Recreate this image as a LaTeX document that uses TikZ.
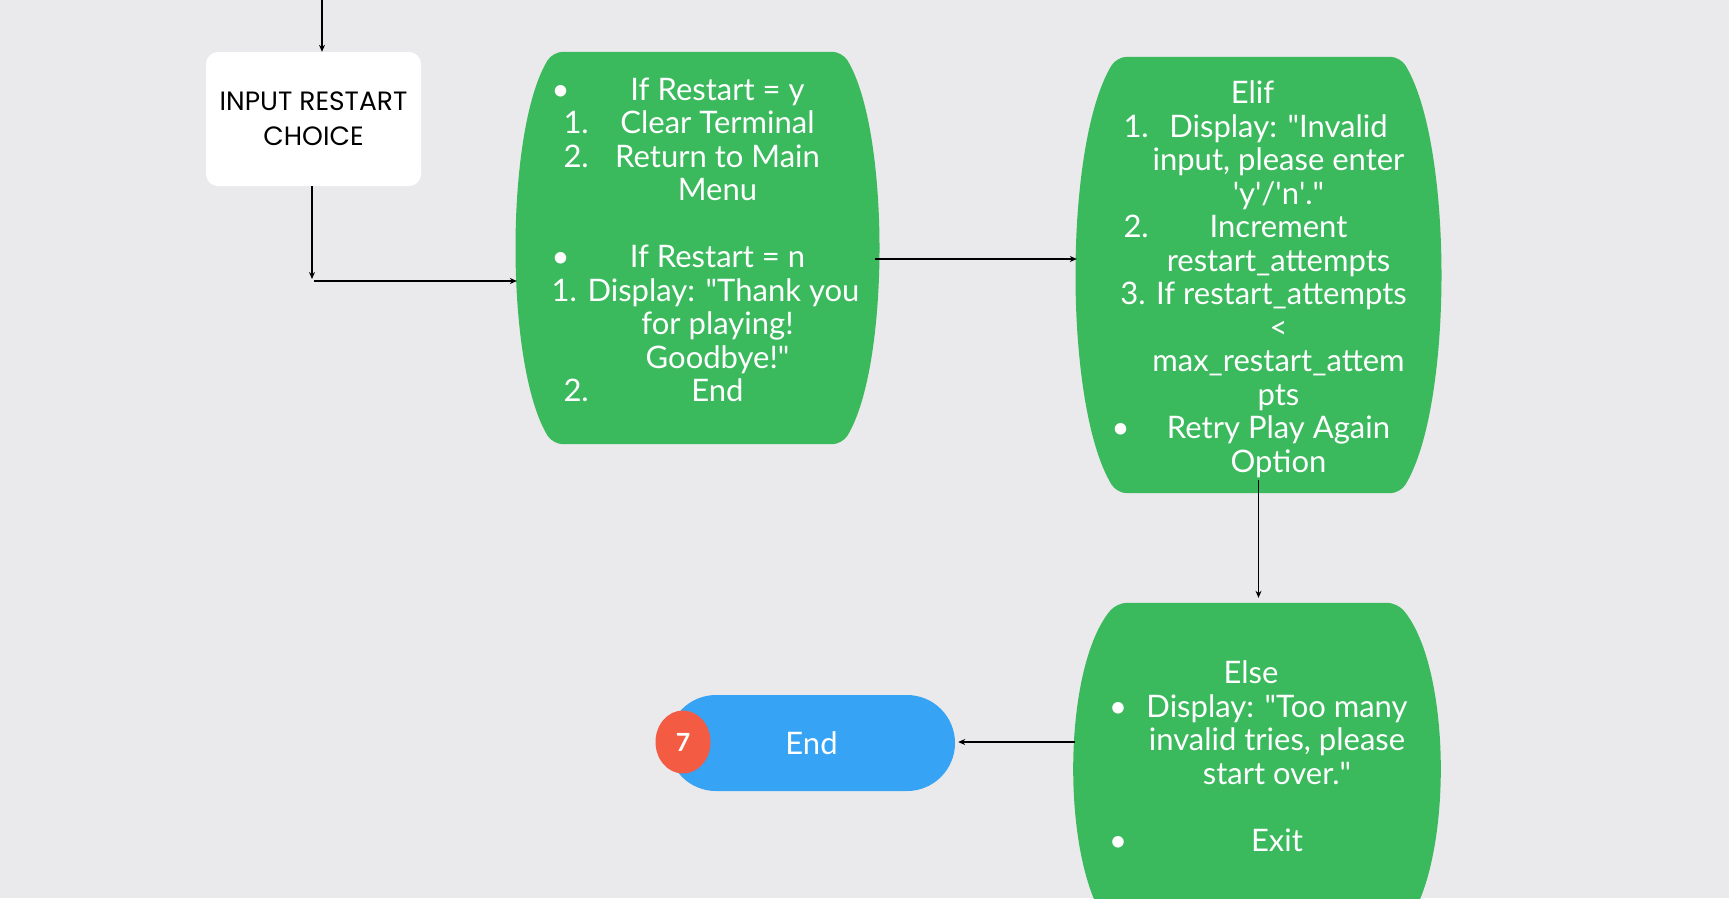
\documentclass[tikz,border=0pt]{standalone}
\usepackage{fontspec}
\setmainfont{Lato}
\newfontfamily\popp{Poppins}
\usetikzlibrary{shapes.geometric,shapes.misc,arrows.meta,backgrounds,calc}
\definecolor{bgc}{HTML}{EAEAEC}
\definecolor{gfill}{HTML}{3BB95D}
\definecolor{bfill}{HTML}{37A3F4}
\definecolor{rfill}{HTML}{F35B43}
\newcommand\gl[3]{\makebox[40pt][l]{#1}\makebox[#2][c]{#3}}
\newcommand\nm[1]{\hspace*{12pt}#1}
\newcommand\barrelfill[2]{%
  \fill[gfill, rounded corners=10pt] (#1.north) -- ([xshift=-#2pt]#1.north east)
    .. controls ($(#1.north east)!0.2!(#1.south east)+(#2/3,0)$) and ($(#1.north east)!0.8!(#1.south east)+(#2/3,0)$) .. ([xshift=-#2pt]#1.south east)
    -- ([xshift=#2pt]#1.south west)
    .. controls ($(#1.south west)!0.2!(#1.north west)+(-#2/3,0)$) and ($(#1.south west)!0.8!(#1.north west)+(-#2/3,0)$) .. ([xshift=#2pt]#1.north west) -- cycle;}
\begin{document}
\begin{tikzpicture}[x=1pt,y=-1pt,
  arr/.style={-{Stealth[length=7pt,width=6pt]}, line width=1.1pt, black},
  gbox/.style={rectangle, inner sep=0pt},
  gtext/.style={text=white, font=\fontsize{31}{33.5}\selectfont, align=center, inner sep=0pt}]
\useasboundingbox (0,0) rectangle (1729,898);
\begin{scope}[on background layer]
  \fill[bgc] (0,0) rectangle (1729,898);
\end{scope}
% input box
\node[rectangle, rounded corners=12pt, fill=white, minimum width=215pt, minimum height=134pt, inner sep=0pt,
      align=center, font=\popp\fontsize{26.5}{35}\selectfont] (inp) at (313.5,119) {INPUT RESTART\\CHOICE};
% green boxes
\node[gbox, minimum width=361pt, minimum height=392pt] (g1) at (697.5,248) {};
\node[gtext] (g1t) at ([yshift=8pt]g1.center) {%
  \gl{\textbullet}{252pt}{If Restart = y}\\
  \gl{\nm{1.}}{252pt}{Clear Terminal}\\
  \gl{\nm{2.}}{252pt}{Return to Main}\\
  \gl{}{252pt}{Menu}\\
  \mbox{}\\
  \gl{\textbullet}{252pt}{If Restart = n}\\
  \makebox[292pt][c]{\hspace*{16pt}1. Display: \textquotedbl Thank you}\\
  \gl{}{252pt}{for playing!}\\
  \gl{}{252pt}{Goodbye!\textquotedbl}\\
  \gl{\nm{2.}}{252pt}{End}};
\node[gbox, minimum width=363pt, minimum height=436pt] (g2) at (1258.5,275) {};
\node[gtext] (g2t) at ([yshift=-4pt]g2.center) {%
  \makebox[294pt][c]{Elif\hspace*{12pt}}\\
  \gl{\nm{1.}}{254pt}{Display: \textquotedbl Invalid}\\
  \gl{}{254pt}{input, please enter}\\
  \gl{}{254pt}{\textquotesingle y\textquotesingle/\textquotesingle n\textquotesingle.\textquotedbl}\\
  \gl{\nm{2.}}{254pt}{Increment}\\
  \gl{}{254pt}{restart\_attempts}\\
  \makebox[294pt][c]{\hspace*{10pt}3. If restart\_attempts}\\
  \gl{}{254pt}{<}\\
  \gl{}{254pt}{max\_restart\_attem}\\
  \gl{}{254pt}{pts}\\
  \gl{\textbullet}{254pt}{Retry Play Again}\\
  \gl{}{254pt}{Option}};
\node[gbox, minimum width=364pt, minimum height=332pt] (g3) at (1257,769) {};
\node[gtext] (g3t) at ([yshift=13pt]g3.center) {%
  \makebox[296pt][c]{Else\hspace*{12pt}}\\
  \gl{\textbullet}{256pt}{Display: \textquotedbl Too many}\\
  \gl{}{256pt}{invalid tries, please}\\
  \gl{}{256pt}{start over.\textquotedbl}\\
  \mbox{}\\
  \gl{\textbullet}{256pt}{Exit}};
\begin{scope}[on background layer]
  \barrelfill{g1}{36}
  \barrelfill{g2}{40}
  \barrelfill{g3}{42}
\end{scope}
% end terminal
\node[rounded rectangle, fill=bfill, minimum width=287pt, minimum height=96pt, inner sep=0pt,
      text=white, font=\fontsize{31}{33}\selectfont] (e) at (811.5,743) {End};
\node[ellipse, fill=rfill, minimum width=55pt, minimum height=63pt, inner sep=0pt,
      text=white, font=\bfseries\fontsize{25}{25}\selectfont] (r7) at (683,742) {7};
% connectors
\coordinate (ti) at (322,0);
\coordinate (cn) at (312,281);
\draw[arr] (ti) -- (ti |- inp.north);
\draw[arr] (inp.south -| cn) -- ([yshift=2pt]cn);
\draw[arr] ([xshift=2pt]cn) -- (cn -| g1.west);
\draw[arr] ([yshift=-11pt,xshift=-3pt]g1.east) -- ([yshift=-11pt]g1.east -| g2.west);
\draw[arr] ([yshift=13pt]g2.south) -- ([yshift=5pt]g3.north -| g2.south);
\draw[arr] (g3.west |- r7) -- ([xshift=3pt]e.east |- r7);
\end{tikzpicture}
\end{document}
